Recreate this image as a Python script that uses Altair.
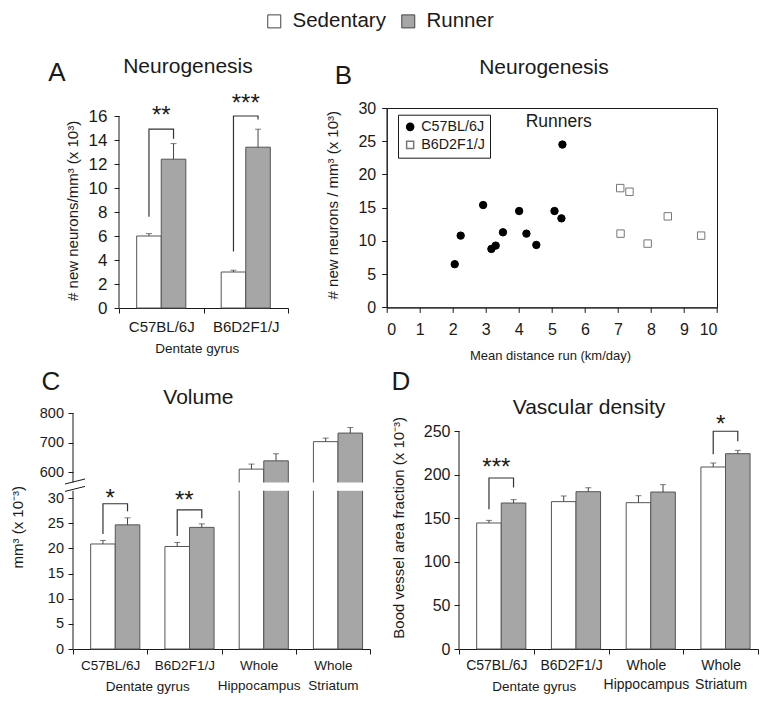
import altair as alt
import pandas as pd

FONT = "Liberation Sans"
INK = "#1a1a1a"
GROUPS = ["Sedentary", "Runner"]
GROUP_FILLS = ["#ffffff", "#a6a6a6"]

# ---------------- Panel A : neurogenesis bars ----------------
a_cats = ["C57BL/6J", "B6D2F1/J"]
a_sed = [6.0, 3.0]
a_sed_err = [6.2, 3.15]
a_run = [12.4, 13.4]
a_run_err = [13.7, 14.9]
a_brk_cats = ["C57BL/6J", "B6D2F1/J"]
a_brk_left = [7.6, 4.7]
a_brk_top = [14.9, 16.0]
a_brk_right = [14.1, 15.7]
a_star_cats = ["C57BL/6J", "B6D2F1/J"]
a_stars = ["**", "***"]
a_star_y = [16.5, 17.5]
a_yticks = [0, 2, 4, 6, 8, 10, 12, 14, 16]

# ---------------- Panel B : scatter ----------------
b_c57_x = [2.06, 2.24, 2.92, 3.17, 3.30, 3.52, 4.01, 4.23, 4.53, 5.08, 5.29, 5.32]
b_c57_y = [6.5, 10.8, 15.4, 8.8, 9.3, 11.3, 14.5, 11.1, 9.4, 14.5, 13.4, 24.5]
b_b6_x = [7.07, 7.35, 7.08, 7.90, 8.51, 9.52]
b_b6_y = [17.95, 17.4, 11.1, 9.6, 13.7, 10.8]
b_strains = ["C57BL/6J", "B6D2F1/J"]
b_xticks = [0, 1, 2, 3, 4, 5, 6, 7, 8, 9, 10]
b_yticks = [0, 5, 10, 15, 20, 25, 30]

# ---------------- Panel C : volume ----------------
c_cats = ["C57BL/6J", "B6D2F1/J", "Whole Hippocampus", "Whole Striatum"]
c_sed = [20.9, 20.4, 610, 703]
c_sed_err = [21.6, 21.2, 627, 715]
c_run = [24.7, 24.2, 638, 732]
c_run_err = [26.1, 24.9, 662, 751]
c_brk_cats = ["C57BL/6J", "B6D2F1/J"]
c_brk_left = [22.9, 22.5]
c_brk_top = [28.9, 27.7]
c_brk_right = [27.4, 26.0]
c_star_cats = ["C57BL/6J", "B6D2F1/J"]
c_stars = ["*", "**"]
c_star_y = [31.0, 30.7]
c_yticks = [0, 5, 10, 15, 20, 25, 30, 600, 700, 800]
c_break = [31.5, 565]

# ---------------- Panel D : vascular density ----------------
d_cats = ["C57BL/6J", "B6D2F1/J", "Whole Hippocampus", "Whole Striatum"]
d_sed = [144.5, 169.0, 167.8, 208.7]
d_sed_err = [147.5, 175.5, 175.8, 213.3]
d_run = [167.4, 180.4, 180.0, 224.0]
d_run_err = [171.3, 185.0, 188.5, 227.8]
d_brk_cats = ["C57BL/6J", "Whole Striatum"]
d_brk_left = [160.2, 223.3]
d_brk_top = [196.1, 249.7]
d_brk_right = [185.1, 238.2]
d_star_cats = ["C57BL/6J", "Whole Striatum"]
d_stars = ["***", "*"]
d_star_y = [214.4, 264.2]
d_yticks = [0, 50, 100, 150, 200, 250]

top_legend = alt.Legend(
    title=None, orient="none", legendX=191, legendY=-97, direction="horizontal",
    symbolType="square", symbolSize=169, symbolStrokeColor="#444", symbolStrokeWidth=1,
    labelFontSize=20.5, labelFont=FONT, labelColor=INK, labelOffset=8, columnPadding=12, padding=0,
)


def text_layer(txt, px, py, size):
    return alt.Chart(pd.DataFrame({"t": [txt]})).mark_text(
        fontSize=size, font=FONT, align="center", baseline="middle", color=INK
    ).encode(text="t:N", x=alt.value(px), y=alt.value(py))


def bar_panel(cats, sed, sed_err, run, run_err, brk_cats, brk_left, brk_top, brk_right,
              star_cats, stars, star_y, yscale, yticks, axis_lo, axis_hi, width, height, po,
              ylab_size, ylab_pad, xlab_size, xlab_pad, line_h, ytitle, yt_x, yt_y,
              xt_x, xt_y, title, title_xy, letter, letter_xy, gap=None):
    n = len(cats)
    df = pd.DataFrame({
        "cat": cats + cats,
        "group": [GROUPS[0]] * n + [GROUPS[1]] * n,
        "mean": sed + run,
        "err": sed_err + run_err,
    })
    xaxis = alt.Axis(
        labelAngle=0, tickBand="extent", tickSize=5, labelPadding=xlab_pad,
        labelFontSize=xlab_size, labelLineHeight=line_h, labelBaseline="top",
        labelExpr="split(datum.label, ' ')", titleFontSize=13.5, titleX=xt_x, titleY=xt_y,
        titleBaseline="middle", titleAlign="center",
    )
    x = alt.X("cat:N", sort=cats, title="Dentate gyrus",
              scale=alt.Scale(paddingInner=0, paddingOuter=0), axis=xaxis)
    xo = alt.XOffset("group:N", sort=GROUPS,
                     scale=alt.Scale(domain=GROUPS, paddingInner=0, paddingOuter=po))
    yaxis = alt.Axis(
        values=yticks, tickSize=5, labelPadding=ylab_pad, labelFontSize=ylab_size,
        domain=False, titleFontSize=15, titleX=yt_x, titleY=yt_y, titleBaseline="middle",
        titleAlign="center", titleAngle=270,
    )

    def Y(field):
        return alt.Y(field, scale=yscale, axis=yaxis, title=ytitle)

    bars = alt.Chart(df).mark_bar(stroke="#555", strokeWidth=1).encode(
        x=x, xOffset=xo, y=Y("mean:Q"),
        color=alt.Color("group:N", scale=alt.Scale(domain=GROUPS, range=GROUP_FILLS),
                        legend=top_legend),
    )
    whisk = alt.Chart(df).mark_rule(color="#444", strokeWidth=1).encode(
        x=x, xOffset=xo, y=Y("mean:Q"), y2="err:Q"
    )
    caps = alt.Chart(df).mark_tick(orient="horizontal", size=6, thickness=1, color="#444").encode(
        x=x, xOffset=xo, y=Y("err:Q")
    )
    rows = []
    for i, c in enumerate(brk_cats):
        rows += [
            {"id": i, "ord": 0, "cat": c, "group": GROUPS[0], "v": brk_left[i]},
            {"id": i, "ord": 1, "cat": c, "group": GROUPS[0], "v": brk_top[i]},
            {"id": i, "ord": 2, "cat": c, "group": GROUPS[1], "v": brk_top[i]},
            {"id": i, "ord": 3, "cat": c, "group": GROUPS[1], "v": brk_right[i]},
        ]
    brk = alt.Chart(pd.DataFrame(rows)).mark_line(color="#333", strokeWidth=1.2).encode(
        x=x, xOffset=xo, y=Y("v:Q"), detail="id:N", order="ord:Q",
    )
    st = alt.Chart(pd.DataFrame({"cat": star_cats, "s": stars, "v": star_y})).mark_text(
        fontSize=24, font=FONT, baseline="alphabetic", dy=13, color=INK
    ).encode(x=x, y=Y("v:Q"), text="s:N")
    dom = alt.Chart(pd.DataFrame({"lo": axis_lo, "hi": axis_hi})).mark_rule(
        color=INK, strokeWidth=1
    ).encode(x=alt.value(0), y=Y("lo:Q"), y2="hi:Q")
    layers = [bars, whisk, caps]
    if gap is not None:
        layers.append(
            alt.Chart(pd.DataFrame({"lo": [gap[0]], "hi": [gap[1]]})).mark_rect(color="white").encode(
                x=alt.value(0), x2=alt.value(width), y=Y("lo:Q"), y2="hi:Q")
        )
    layers += [brk, st, dom,
               text_layer(title, title_xy[0], title_xy[1], 21),
               text_layer(letter, letter_xy[0], letter_xy[1], 26)]
    return layers, width, height


# ---- A
A_H = 200
a_layers, aw, ah = bar_panel(
    a_cats, a_sed, a_sed_err, a_run, a_run_err, a_brk_cats, a_brk_left, a_brk_top, a_brk_right,
    a_star_cats, a_stars, a_star_y,
    alt.Scale(domain=[0, 16 * A_H / 192], nice=False, zero=True), a_yticks, [0], [16],
    169, A_H, 0.72, 17, 7, 15, 6, 18, "# new neurons/mm³ (x 10³)", -47, 102.4,
    77.7, 40.3, "Neurogenesis", (69, -41.3), "A", (-62, -34.8))
chart_a = alt.layer(*a_layers).properties(width=aw, height=ah)

# ---- B
b_df = pd.DataFrame({
    "dist": b_c57_x + b_b6_x,
    "neur": b_c57_y + b_b6_y,
    "strain": [b_strains[0]] * len(b_c57_x) + [b_strains[1]] * len(b_b6_x),
})
b_leg = alt.Legend(
    title=None, orient="none", legendX=325, legendY=6.7, strokeColor=INK, padding=5,
    labelFontSize=14.3, labelFont=FONT, labelColor=INK, symbolSize=50, rowPadding=3,
    labelOffset=4, direction="vertical",
)
bx = alt.X("dist:Q", scale=alt.Scale(domain=[0, 10], nice=False),
           axis=alt.Axis(values=b_xticks, tickSize=5, labelPadding=9, labelFontSize=16,
                         titleFontSize=13, titleX=163.3, titleY=48, titleBaseline="middle",
                         titleAlign="center"),
           title="Mean distance run (km/day)")
by = alt.Y("neur:Q", scale=alt.Scale(domain=[0, 30], nice=False),
           axis=alt.Axis(values=b_yticks, tickSize=5, labelPadding=6, labelFontSize=16,
                         titleFontSize=15, titleX=-54.7, titleY=96.7, titleBaseline="middle",
                         titleAlign="center", titleAngle=270),
           title="# new neurons  / mm³ (x 10³)")
pts = alt.Chart(b_df).mark_point(opacity=1, size=55, strokeWidth=1).encode(
    x=bx, y=by,
    shape=alt.Shape("strain:N", scale=alt.Scale(domain=b_strains, range=["circle", "square"]), legend=b_leg),
    fill=alt.Fill("strain:N", scale=alt.Scale(domain=b_strains, range=["#000000", "#ffffff"]), legend=b_leg),
    stroke=alt.Stroke("strain:N", scale=alt.Scale(domain=b_strains, range=["#000000", "#777777"]), legend=b_leg),
)
runners = alt.Chart(pd.DataFrame({"dist": [5.21], "neur": [27.9], "t": ["Runners"]})).mark_text(
    fontSize=17.5, font=FONT, color=INK, baseline="middle", align="center"
).encode(x=bx, y=by, text="t:N")
chart_b = alt.layer(
    pts, runners,
    text_layer("Neurogenesis", 157.3, -39.8, 21),
    text_layer("B", -43.2, -31.8, 26),
).properties(width=330.3, height=199.4, view=alt.ViewBackground(stroke=INK, strokeWidth=1))

# ---- C (broken axis through a piecewise scale)
C_H = 236
c_layers, cw, ch = bar_panel(
    c_cats, c_sed, c_sed_err, c_run, c_run_err, c_brk_cats, c_brk_left, c_brk_top, c_brk_right,
    c_star_cats, c_stars, c_star_y,
    alt.Scale(domain=[0, c_break[0], c_break[1], 800], range=[C_H, 77.7, 69.4, 0], nice=False, zero=False),
    c_yticks, [0, c_break[1]], [c_break[0], 800],
    297, C_H, 0.71, 14.5, 4.5, 13.5, 4, 20, "mm³ (x 10⁻³)", -56, 113.7,
    74.25, 37.7, "Volume", (125.3, -15.3), "C", (-22, -31.3), gap=c_break)
diag1 = alt.Chart(pd.DataFrame({"k": [0]})).mark_rule(color=INK).encode(
    x=alt.value(-8), x2=alt.value(12), y=alt.value(71), y2=alt.value(66))
diag2 = alt.Chart(pd.DataFrame({"k": [0]})).mark_rule(color=INK).encode(
    x=alt.value(-8), x2=alt.value(12), y=alt.value(78.4), y2=alt.value(73.4))
chart_c = alt.layer(*c_layers, diag1, diag2).properties(width=cw, height=ch)

# ---- D
D_H = 236
d_layers, dw, dh = bar_panel(
    d_cats, d_sed, d_sed_err, d_run, d_run_err, d_brk_cats, d_brk_left, d_brk_top, d_brk_right,
    d_star_cats, d_stars, d_star_y,
    alt.Scale(domain=[0, 250 * D_H / 218], nice=False), d_yticks, [0], [250],
    299, D_H, 0.72, 16, 4, 14, 4, 19, "Bood vessel area fraction  (x 10⁻³)", -61, 114.3,
    74.75, 37.3, "Vascular density", (130, -5.3), "D", (-58, -31.3))
chart_d = alt.layer(*d_layers).properties(width=dw, height=dh)

spacer = alt.Chart(pd.DataFrame({"v": [0]})).mark_point(opacity=0).encode(
    x=alt.X("v:Q", axis=None), y=alt.Y("v:Q", axis=None)).properties(width=46, height=20)

row1 = alt.hconcat(spacer, alt.hconcat(chart_a, chart_b, spacing=98.7, bounds="flush"),
                   spacing=0, bounds="flush")
row2 = alt.hconcat(chart_c, chart_d, spacing=89, bounds="flush")

# nested concat cells count as zero-height under flush bounds, so spacing spans row 1 too
chart = alt.vconcat(row1, row2, spacing=305, bounds="flush").properties(
    autosize=alt.AutoSizeParams(type="none"),
    padding={"left": 65, "top": 100, "right": 687, "bottom": 588},
).configure(font=FONT).configure_view(stroke="transparent").configure_axis(
    grid=False, domainColor=INK, tickColor=INK, labelColor=INK, titleColor=INK,
    labelFont=FONT, titleFont=FONT, titleFontWeight="normal",
)

chart.save("out.html", embed_options={"renderer": "svg", "actions": False})
